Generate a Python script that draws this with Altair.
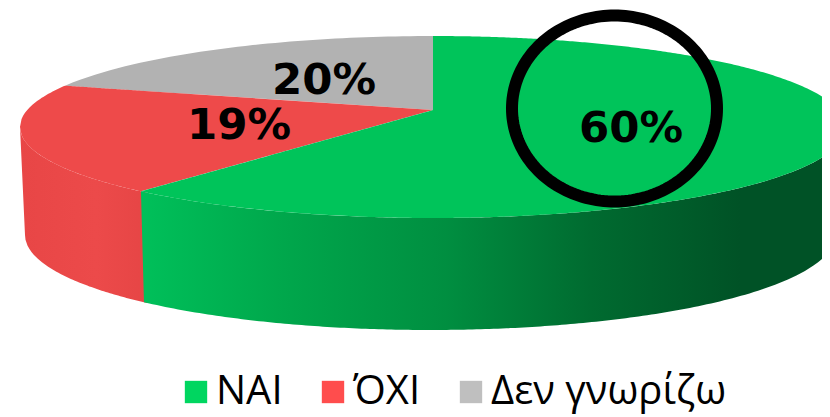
import numpy as np
import pandas as pd
import altair as alt

# ---- data ----
categories = ["ΝΑΙ", "ΌΧΙ", "Δεν γνωρίζω"]
label_text = ["60%", "19%", "20%"]
# slice sizes as they appear on the tilted disc (perspective widens the front slice)
drawn_shares = [62.5, 20.0, 17.5]
legend_colors = ["#00D660", "#FF4D4D", "#BFBFBF"]
top_colors = ["#00C45A", "#EE4A4A", "#B2B2B2"]

# ---- layout (page pixels) ----
R, H = 822, 417                               # right and bottom edges of the drawing
CX, CY, A, B = 433.0, 127.0, 413.0, 91.0      # top rim ellipse
BX, BY, BA, BB = 430.0, 235.0, 405.0, 95.0    # bottom rim ellipse
APEX = (433.0, 110.0)
RING = (614.5, 108.5, 102.5, 93.0)
label_x = [631, 239, 324]
label_y = [129, 126, 81]

xs_scale = alt.Scale(domain=[8, R], range=[0, R - 8])
ys_scale = alt.Scale(domain=[8, H], range=[0, H - 8])


def top_low(x):
    return CY + B * np.sqrt(np.clip(1 - ((x - CX) / A) ** 2, 0, 1))


def top_up(x):
    return CY - B * np.sqrt(np.clip(1 - ((x - CX) / A) ** 2, 0, 1))


def bot_low(x):
    return BY + BB * np.sqrt(np.clip(1 - ((x - BX) / BA) ** 2, 0, 1))


def seam(x, xe, ye):
    return APEX[1] + (ye - APEX[1]) * (x - APEX[0]) / (xe - APEX[0])


cum = np.cumsum(drawn_shares) / sum(drawn_shares) * 2 * np.pi
xa, ya = CX + A * np.sin(cum[0]), CY - B * np.cos(cum[0])  # green / red seam
xb, yb = CX + A * np.sin(cum[1]), CY - B * np.cos(cum[1])  # red / grey seam
x_left = CX - A


def area(x, y, y2):
    return pd.DataFrame({"px": x, "top": y, "bottom": y2})


def layer_area(df, **kw):
    return alt.Chart(df).mark_area(**kw).encode(
        x=alt.X("px:Q", scale=xs_scale, axis=None),
        y=alt.Y("top:Q", scale=ys_scale, axis=None),
        y2=alt.Y2("bottom"),
    )


# --- top faces
x1 = np.r_[np.linspace(x_left, xb, 30), np.linspace(xb + 0.01, xa, 40), np.linspace(xa + 0.01, APEX[0], 2)]
red_top = area(
    x1,
    np.where(x1 <= xb, top_up(x1), seam(x1, xb, yb)),
    np.where(x1 <= xa, top_low(x1), seam(x1, xa, ya)),
)
x2 = np.linspace(xb, APEX[0], 50)
grey_top = area(x2, top_up(x2), seam(x2, xb, yb))
x3a = np.linspace(xa, APEX[0], 60)
x3b = np.linspace(APEX[0] + 0.01, R, 160)
green_top = area(
    np.r_[x3a, x3b],
    np.r_[seam(x3a, xa, ya), top_up(x3b)],
    np.r_[top_low(x3a), top_low(x3b)],
)

# --- side walls
x4 = np.r_[np.linspace(x_left, BX - BA, 6), np.linspace(BX - BA + 0.5, 147, 60)]
red_side = area(
    x4,
    top_low(x4),
    np.where(x4 < BX - BA, top_low(x_left) + (x4 - x_left) / (BX - BA - x_left) * 108, bot_low(x4)),
)
x5 = np.r_[xa, np.linspace(xa + 3, R, 160)]
green_side = area(x5, top_low(x5), bot_low(x5))
green_side.loc[0, "bottom"] = top_low(xa)

red_grad = alt.Gradient(
    gradient="linear", x1=0, x2=1, y1=0, y2=0,
    stops=[alt.GradientStop(color="#E84646", offset=0),
           alt.GradientStop(color="#EC4A4A", offset=0.6),
           alt.GradientStop(color="#E64545", offset=1)],
)
green_grad = alt.Gradient(
    gradient="linear", x1=0, x2=1, y1=0, y2=0,
    stops=[alt.GradientStop(color="#00C05A", offset=0),
           alt.GradientStop(color="#00A84C", offset=0.2),
           alt.GradientStop(color="#008E40", offset=0.45),
           alt.GradientStop(color="#006B30", offset=0.66),
           alt.GradientStop(color="#005226", offset=0.88),
           alt.GradientStop(color="#005226", offset=1)],
)

# --- ring
t = np.linspace(0, 2 * np.pi, 181)
ring = pd.DataFrame({
    "px": RING[0] + RING[2] * np.cos(t),
    "py": RING[1] + RING[3] * np.sin(t),
    "i": np.arange(len(t)),
})
ring_layer = alt.Chart(ring).mark_line(color="black", strokeWidth=12).encode(
    x=alt.X("px:Q", scale=xs_scale, axis=None),
    y=alt.Y("py:Q", scale=ys_scale, axis=None),
    order="i:Q",
)

# --- value labels
labels = pd.DataFrame({"t": label_text, "px": label_x, "py": label_y})
label_layer = alt.Chart(labels).mark_text(
    font="DejaVu Sans", fontWeight="bold", fontSize=43.5, color="black",
    align="center", baseline="middle",
).encode(
    x=alt.X("px:Q", scale=xs_scale, axis=None),
    y=alt.Y("py:Q", scale=ys_scale, axis=None),
    text="t:N",
)

# --- legend carrier
leg = pd.DataFrame({"c": categories, "px": [100] * 3, "py": [100] * 3})
legend_layer = alt.Chart(leg).mark_point(filled=True, shape="square", size=0).encode(
    x=alt.X("px:Q", scale=xs_scale, axis=None),
    y=alt.Y("py:Q", scale=ys_scale, axis=None),
    color=alt.Color(
        "c:N",
        scale=alt.Scale(domain=categories, range=legend_colors),
        legend=alt.Legend(
            title=None, orient="none", legendX=168, legendY=364, direction="horizontal",
            symbolType="square", symbolSize=500, symbolStrokeWidth=0, symbolOpacity=1,
            labelFont="Open Sans", labelFontSize=40, labelColor="black",
            labelOffset=0, columnPadding=30, labelLimit=400,
        ),
    ),
)

chart = alt.layer(
    layer_area(red_side, color=red_grad),
    layer_area(green_side, color=green_grad),
    layer_area(grey_top, color=top_colors[2]),
    layer_area(red_top, color=top_colors[1]),
    layer_area(green_top, color=top_colors[0]),
    ring_layer,
    label_layer,
    legend_layer,
).properties(
    width=R - 8, height=H - 8, autosize=alt.AutoSizeParams(type="none"), padding=0,
).configure_view(stroke=None)

chart.save("out.html", embed_options={"renderer": "svg", "actions": False})
